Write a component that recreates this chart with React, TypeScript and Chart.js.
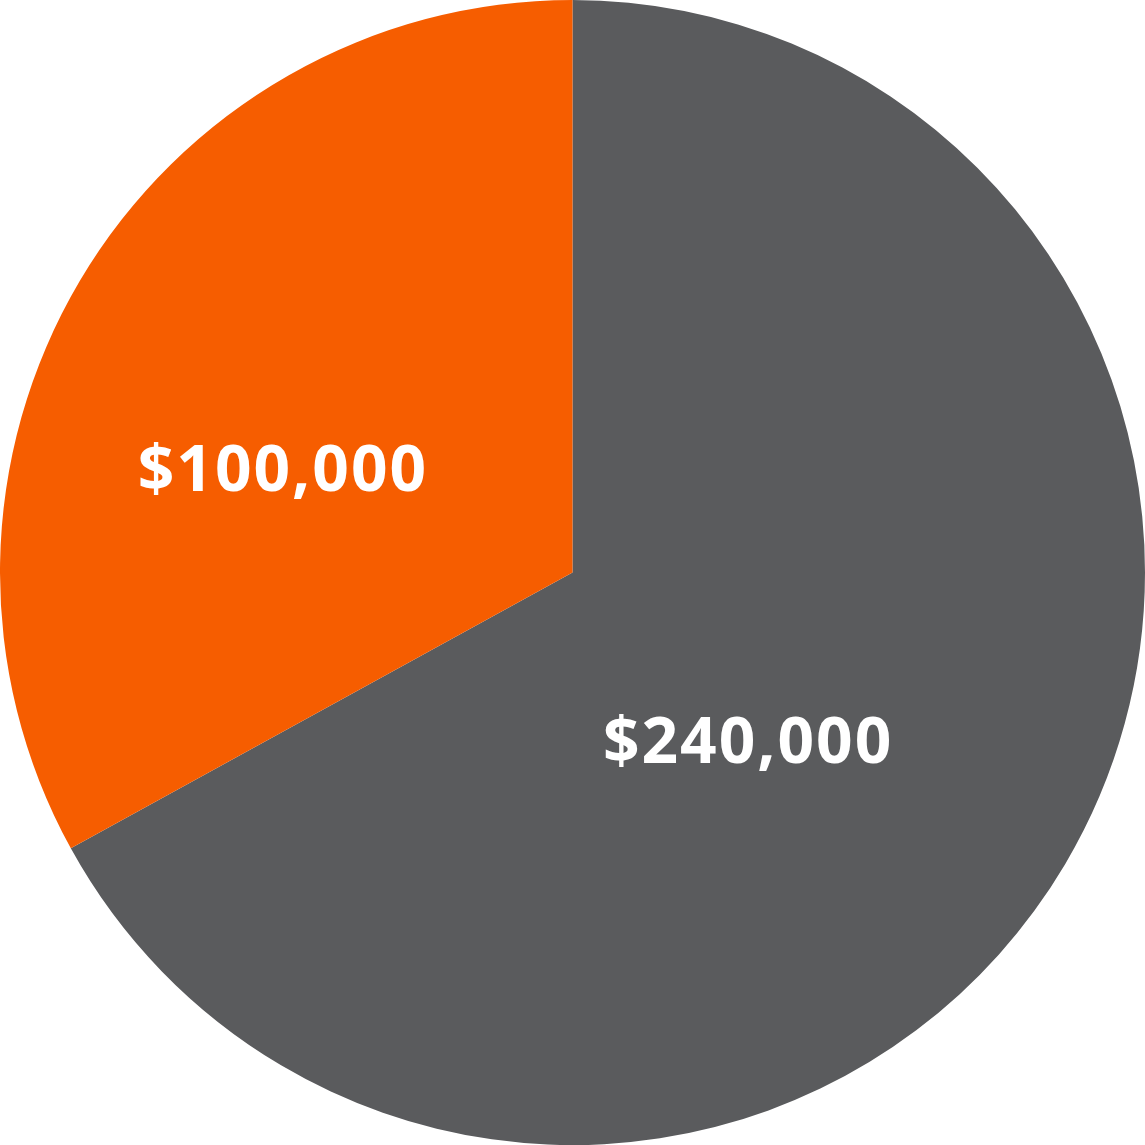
import { useEffect, useRef } from 'react';
import Chart from 'chart.js/auto';

// slice names, amounts shown in the labels, and the share of the circle each slice takes
const sliceNames = ['Remaining', 'Raised'];
const sliceAmounts = [240000, 100000];
const sliceShares = [67, 33];
const sliceColors = ['#5a5b5d', '#f65d00'];

const formatMoney = (v: number) => '$' + v.toLocaleString('en-US');

const App = () => {
    const canvas = useRef<HTMLCanvasElement>(null);

    useEffect(() => {
        // where each label sits, as angle from 12 o'clock (clockwise) and fraction of the radius
        const labelSpots = [
            { angle: 134.5, dist: 0.43 },
            { angle: 289, dist: 0.535 },
        ];

        const amountLabels = {
            id: 'amountLabels',
            afterDatasetsDraw(chart: any) {
                const { ctx } = chart;
                const meta = chart.getDatasetMeta(0);
                ctx.save();
                ctx.fillStyle = '#ffffff';
                ctx.font = 'bold 64px "Open Sans", sans-serif';
                ctx.letterSpacing = '2px';
                ctx.textAlign = 'center';
                ctx.textBaseline = 'middle';
                meta.data.forEach((arc: any, i: number) => {
                    const spot = labelSpots[i];
                    const a = (spot.angle * Math.PI) / 180;
                    const r = arc.outerRadius * spot.dist;
                    const x = arc.x + r * Math.sin(a);
                    const y = arc.y - r * Math.cos(a);
                    ctx.fillText(formatMoney(sliceAmounts[i]), x, y);
                });
                ctx.restore();
            },
        };

        const chart = new Chart(canvas.current as HTMLCanvasElement, {
            type: 'pie',
            data: {
                labels: sliceNames,
                datasets: [
                    {
                        data: sliceShares,
                        backgroundColor: sliceColors,
                        borderWidth: 0,
                    },
                ],
            },
            options: {
                animation: false,
                responsive: true,
                maintainAspectRatio: false,
                layout: { padding: 0 },
                plugins: {
                    legend: { display: false },
                    tooltip: { enabled: false },
                },
            },
            plugins: [amountLabels],
        });

        return () => {
            chart.destroy();
        };
    }, []);

    return (
        <div style={{ position: 'absolute', left: 0, top: 0, width: 1145, height: 1145 }}>
            <canvas ref={canvas} aria-label="Pie chart of amounts" role="img"></canvas>
        </div>
    );
};

export default App;
